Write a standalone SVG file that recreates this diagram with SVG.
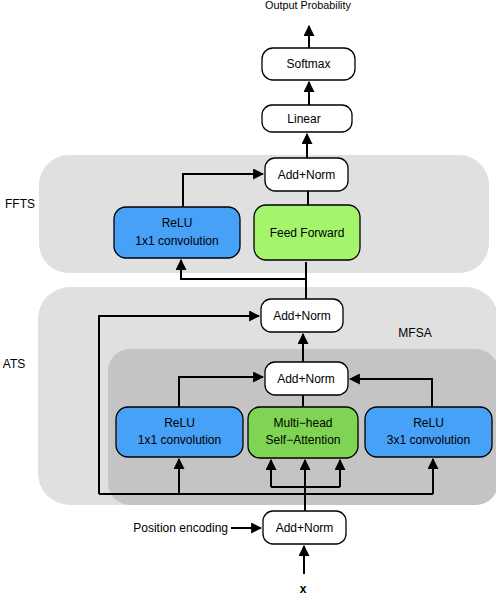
<svg xmlns="http://www.w3.org/2000/svg" width="496" height="594" viewBox="0 0 496 594">
<style>
text{font-family:"Liberation Sans",Arial,sans-serif;font-size:12px;fill:#000;text-anchor:middle;dominant-baseline:central}
.box{stroke:#000;stroke-width:1.3}
.w{fill:#fff}
.b{fill:#47a1f6}
.g1{fill:#a4f46c}
.g2{fill:#7fd553}
.ln{fill:none;stroke:#000;stroke-width:2}
</style>
<defs>
<marker id="ah" viewBox="0 0 10 10" refX="9" refY="5" markerWidth="5.5" markerHeight="5.5" orient="auto" markerUnits="strokeWidth">
<path d="M0,0L10,5L0,10z" fill="#000"/>
</marker>
</defs>
<g id="regions">
<rect id="ffts" x="39" y="155" width="450" height="118" rx="30" fill="#e0e0e0"/>
<rect id="ats" x="38" y="287" width="460" height="218" rx="32" fill="#e0e0e0"/>
<rect id="mfsa" x="108" y="349" width="390" height="156" rx="22" fill="#c4c4c4"/>
<text x="20" y="204">FFTS</text>
<text x="14" y="364">ATS</text>
<text x="415" y="333">MFSA</text>
</g>
<g id="connectors">
<path class="ln" d="M309,48V26" marker-end="url(#ah)"/>
<path class="ln" d="M309,105V82" marker-end="url(#ah)"/>
<path class="ln" d="M307,158V134" marker-end="url(#ah)"/>
<path class="ln" d="M308,205V191"/>
<path class="ln" d="M183,207V174H263" marker-end="url(#ah)"/>
<path class="ln" d="M306,299V262"/>
<path class="ln" d="M306,279H181V260" marker-end="url(#ah)"/>
<path class="ln" d="M303,362V334" marker-end="url(#ah)"/>
<path class="ln" d="M303,407V395"/>
<path class="ln" d="M179,407V377H263" marker-end="url(#ah)"/>
<path class="ln" d="M432,407V379H350" marker-end="url(#ah)"/>
<path class="ln" d="M99,494V316H259" marker-end="url(#ah)"/>
<path class="ln" d="M99,494H433"/>
<path class="ln" d="M179,494V459" marker-end="url(#ah)"/>
<path class="ln" d="M433,494V459" marker-end="url(#ah)"/>
<path class="ln" d="M305,511V460" marker-end="url(#ah)"/>
<path class="ln" d="M271,487H340"/>
<path class="ln" d="M271,487V460" marker-end="url(#ah)"/>
<path class="ln" d="M340,487V460" marker-end="url(#ah)"/>
<path class="ln" d="M231,528H261" marker-end="url(#ah)"/>
<path class="ln" d="M304,574V546" marker-end="url(#ah)"/>
</g>
<g id="output"><text x="308" y="5" style="font-size:10.8px">Output Probability</text></g>
<g id="softmax"><rect class="box w" x="262" y="48" width="93" height="32" rx="11"/><text x="308.5" y="64">Softmax</text></g>
<g id="linear"><rect class="box w" x="262" y="105" width="90" height="27" rx="10"/><text x="304" y="119">Linear</text></g>
<g id="addnorm_ffts"><rect class="box w" x="265" y="158" width="83" height="33" rx="10"/><text x="306.5" y="175">Add+Norm</text></g>
<g id="relu_ffts"><rect class="box b" x="114" y="207" width="126" height="51" rx="12"/><text x="177" y="223">ReLU</text><text x="177" y="241">1x1 convolution</text></g>
<g id="feedforward"><rect class="box g1" x="254" y="205" width="106" height="55" rx="12"/><text x="307" y="233">Feed Forward</text></g>
<g id="addnorm_ats"><rect class="box w" x="261" y="299" width="82" height="33" rx="10"/><text x="302" y="316">Add+Norm</text></g>
<g id="addnorm_mfsa"><rect class="box w" x="265" y="362" width="83" height="33" rx="10"/><text x="306" y="379">Add+Norm</text></g>
<g id="relu_1x1"><rect class="box b" x="116" y="407" width="127" height="50" rx="12"/><text x="179.5" y="423">ReLU</text><text x="179.5" y="440">1x1 convolution</text></g>
<g id="mhsa"><rect class="box g2" x="248" y="407" width="110" height="51" rx="12"/><text x="303" y="423">Multi−head</text><text x="303" y="440">Self−Attention</text></g>
<g id="relu_3x1"><rect class="box b" x="365" y="407" width="127" height="50" rx="12"/><text x="428.5" y="423">ReLU</text><text x="428.5" y="440">3x1 convolution</text></g>
<g id="addnorm_in"><rect class="box w" x="263" y="511" width="83" height="33" rx="10"/><text x="304.5" y="528">Add+Norm</text></g>
<g id="posenc"><text x="228" y="528" style="text-anchor:end">Position encoding</text></g>
<g id="x"><text x="303" y="592.5" style="font-weight:bold;font-size:12px;dominant-baseline:alphabetic">x</text></g>
</svg>
